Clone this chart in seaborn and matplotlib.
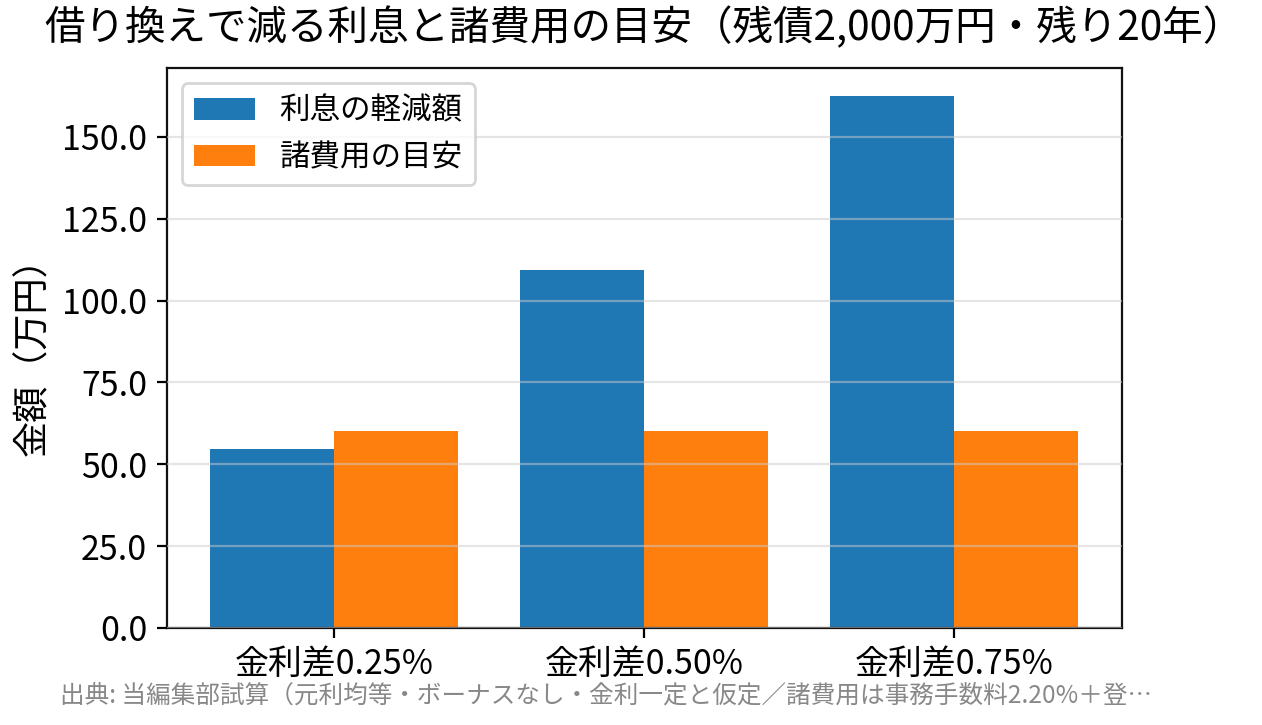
import matplotlib
matplotlib.use("Agg")
import matplotlib.pyplot as plt
import seaborn as sns
import pandas as pd
from matplotlib.ticker import FormatStrFormatter

categories = ["金利差0.25%", "金利差0.50%", "金利差0.75%"]
interest_savings = [54.7, 109.2, 162.6]
cost_estimate = [60.0, 60.0, 60.0]
series_names = ["利息の軽減額", "諸費用の目安"]

title = "借り換えで減る利息と諸費用の目安（残債2,000万円・残り20年）"
ylabel = "金額（万円）"
footnote = "出典: 当編集部試算（元利均等・ボーナスなし・金利一定と仮定／諸費用は事務手数料2.20%＋登…"

plt.rcParams['font.family'] = ['Noto Sans CJK JP', 'DejaVu Sans']

df = pd.DataFrame({
    "cat": categories * 2,
    "value": interest_savings + cost_estimate,
    "series": [series_names[0]] * 3 + [series_names[1]] * 3,
})

fig = plt.figure(figsize=(6.31, 3.625), dpi=200)
ax = fig.add_axes([0.132, 0.134, 0.757, 0.772])
sns.barplot(data=df, x="cat", y="value", hue="series",
            palette=["#1f77b4", "#ff7f0e"], width=0.8, ax=ax,
            saturation=1, errorbar=None)
ax.set_xlim(-0.54, 2.54)
ax.set_ylim(0, 171)
ax.yaxis.set_major_formatter(FormatStrFormatter("%.1f"))
ax.set_xlabel("")
ax.set_ylabel(ylabel, fontsize=13)
ax.tick_params(axis='both', labelsize=12.2)
ax.set_axisbelow(False)
ax.yaxis.grid(True, color="#cccccc", alpha=0.5, linewidth=0.8)
ax.xaxis.grid(False)
for s in ax.spines.values():
    s.set_linewidth(0.8)
    s.set_color("#111111")
ax.set_title(title, fontsize=14.6, pad=10)
leg = ax.legend(loc="upper left", fontsize=11, title=None)
fig.text(0.0475, 0.040, footnote, fontsize=8.85, color="#888888", va="center", ha="left")
fig.savefig("out.png", dpi=200)
